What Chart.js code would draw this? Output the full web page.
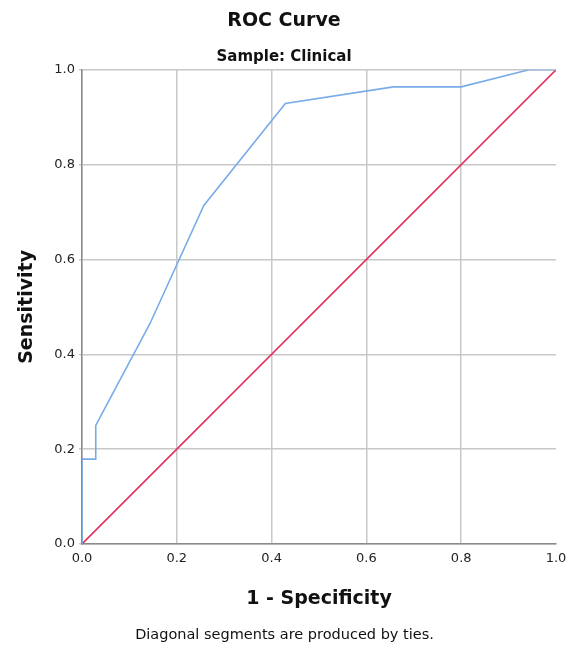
<!DOCTYPE html>
<html>
<head>
<meta charset="utf-8">
<script src="https://cdn.jsdelivr.net/npm/chart.js@4"></script>
<style>
  body { margin: 0; background: #fff; }
  #wrap { position: relative; width: 569px; height: 650px; }
  #footer {
    position: absolute; left: 0; width: 569px; top: 626px;
    text-align: center; font: 14.5px "DejaVu Sans", sans-serif; color: #111;
  }
</style>
</head>
<body>
<div id="wrap">
  <canvas id="roc" width="569" height="650"></canvas>
  <div id="footer">Diagonal segments are produced by ties.</div>
</div>
<script>
// ROC points (1 - specificity, sensitivity)
let falsePosRate = [0, 0, 0.029, 0.029, 0.143, 0.257, 0.429, 0.657, 0.8, 0.943, 1];
let truePosRate = [0, 0.179, 0.179, 0.25, 0.464, 0.714, 0.929, 0.964, 0.964, 1, 1];
let refX = [0, 1];
let refY = [0, 1];
let tickValues = [0, 0.2, 0.4, 0.6, 0.8, 1];

let fontFamily = '"DejaVu Sans", sans-serif';

function toPoints(xs, ys) {
    return xs.map((x, i) => ({ x: x, y: ys[i] }));
}

new Chart(document.getElementById('roc'), {
    type: 'scatter',
    data: {
        datasets: [{
            data: toPoints(falsePosRate, truePosRate),
            showLine: true,
            borderColor: '#78ace8',
            borderWidth: 1.6,
            pointRadius: 0,
            tension: 0
        }, {
            data: toPoints(refX, refY),
            showLine: true,
            borderColor: '#e2325c',
            borderWidth: 1.6,
            pointRadius: 0
        }]
    },
    options: {
        responsive: false,
        animation: false,
        layout: { padding: { left: 12, right: 13, top: 10, bottom: 36 } },
        plugins: {
            legend: { display: false },
            tooltip: { enabled: false },
            title: {
                display: true,
                text: 'ROC Curve',
                color: '#111',
                font: { family: fontFamily, size: 19, weight: 'bold' },
                padding: { top: 0, bottom: 15 }
            },
            subtitle: {
                display: true,
                text: 'Sample: Clinical',
                color: '#111',
                font: { family: fontFamily, size: 15, weight: 'bold' },
                padding: { top: 0, bottom: 4 }
            }
        },
        scales: {
            x: {
                type: 'linear',
                min: 0, max: 1,
                afterBuildTicks: s => { s.ticks = tickValues.map(v => ({ value: v })); },
                afterFit: s => {
                    // keep the end labels from squeezing the plot
                    s.height = 70;
                    s.paddingLeft = 0;
                    s.paddingRight = 0;
                },
                ticks: {
                    color: '#222',
                    font: { family: fontFamily, size: 13 },
                    padding: 7,
                    callback: v => v.toFixed(1)
                },
                grid: {
                    color: c => (c.tick && c.tick.value === 1) ? 'rgba(0,0,0,0)' : '#c8c8c8',
                    lineWidth: 1.5,
                    tickLength: 0
                },
                border: { color: '#8a8a8a', width: 1.5 },
                title: {
                    display: true,
                    text: '1 - Specificity',
                    color: '#111',
                    font: { family: fontFamily, size: 19, weight: 'bold' },
                    padding: { top: 14 }
                }
            },
            y: {
                type: 'linear',
                min: 0, max: 1,
                afterBuildTicks: s => { s.ticks = tickValues.map(v => ({ value: v })); },
                afterFit: s => { s.width = 70; },
                ticks: {
                    color: '#222',
                    font: { family: fontFamily, size: 13 },
                    padding: 4,
                    callback: v => v.toFixed(1)
                },
                grid: {
                    color: '#c8c8c8',
                    lineWidth: 1.5,
                    tickLength: 3
                },
                border: { color: '#8a8a8a', width: 1.5 },
                title: {
                    display: true,
                    text: 'Sensitivity',
                    color: '#111',
                    font: { family: fontFamily, size: 19, weight: 'bold' },
                    padding: { bottom: 8 }
                }
            }
        }
    }
});
</script>
</body>
</html>
